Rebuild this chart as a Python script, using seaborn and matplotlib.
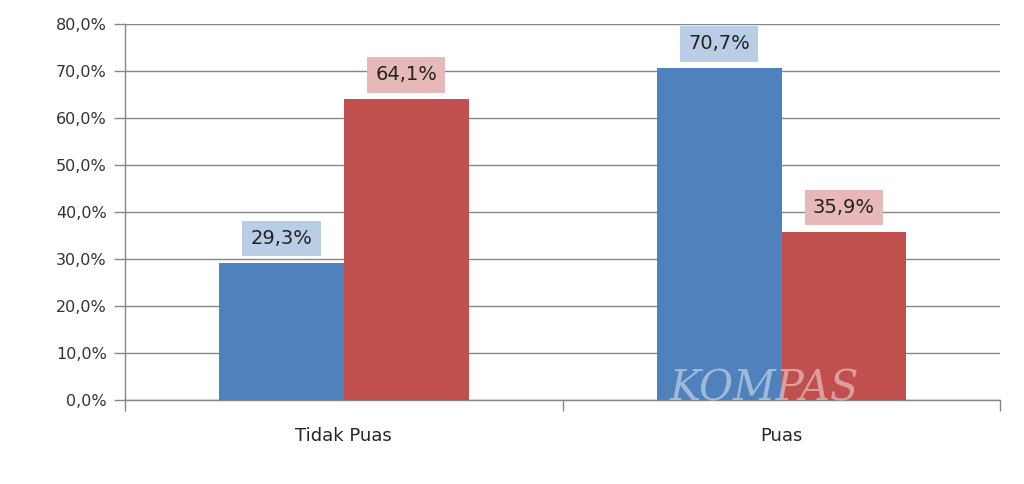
import pandas as pd
import numpy as np
import matplotlib.pyplot as plt
import seaborn as sns
from matplotlib.ticker import FuncFormatter

sns.set_style('white')
plt.rcParams['font.family'] = ['DejaVu Sans']

## data
categories = ['Tidak Puas', 'Puas']
series_names = ['Seri 1', 'Seri 2']
values_1 = [29.3, 70.7]
values_2 = [64.1, 35.9]

df = pd.DataFrame({
    'kategori': categories * 2,
    'seri': [series_names[0]] * 2 + [series_names[1]] * 2,
    'nilai': values_1 + values_2,
})

bar_colors = ['#4F81BD', '#C0504D']
box_colors = ['#B9CDE5', '#E6B9B8']
grid_col = '#868686'

fig, ax = plt.subplots(figsize=(10.24, 4.84), dpi=100)
fig.subplots_adjust(left=0.122, right=0.977, top=0.95, bottom=0.173)

sns.barplot(data=df, x='kategori', y='nilai', hue='seri', palette=bar_colors,
            width=0.57, saturation=1, legend=False, linewidth=0, ax=ax, zorder=3)

ax.set_ylim(0, 80)
ax.set_yticks(np.arange(0, 81, 10))
ax.yaxis.set_major_formatter(FuncFormatter(lambda v, p: f'{v:.1f}%'.replace('.', ',')))
ax.grid(axis='y', color=grid_col, linewidth=1.0, zorder=0)
ax.set_xlim(-0.5, 1.5)
ax.set_xlabel('')
ax.set_ylabel('')

for s in ['top', 'right']:
    ax.spines[s].set_visible(False)
for s in ['left', 'bottom']:
    ax.spines[s].set_color(grid_col)
    ax.spines[s].set_linewidth(1.0)

ax.tick_params(axis='y', left=True, length=8, color=grid_col, width=1.0, labelsize=11.5,
               labelcolor='#333333', pad=5)
ax.tick_params(axis='x', which='major', bottom=False, length=0, labelsize=13, pad=19)
ax.set_xticks([-0.5, 0.5, 1.5], minor=True)
ax.tick_params(axis='x', which='minor', bottom=True, length=8, color=grid_col, width=1.0)

# data labels with shaded boxes
for i, cont in enumerate(ax.containers):
    for bar in cont:
        h = bar.get_height()
        x = bar.get_x() + bar.get_width() / 2
        ax.text(x, h + 5.1, f'{h:.1f}%'.replace('.', ','), ha='center', va='center',
                fontsize=14, color='#222222', zorder=5,
                bbox=dict(boxstyle='square,pad=0.42', fc=box_colors[i], ec='none'))

# watermark
ax.text(0.96, 2.4, 'KOMPAS', fontsize=30, family='DejaVu Serif', style='italic',
        color='white', alpha=0.45, ha='center', va='center', zorder=6)

plt.savefig('out.png', dpi=100)
